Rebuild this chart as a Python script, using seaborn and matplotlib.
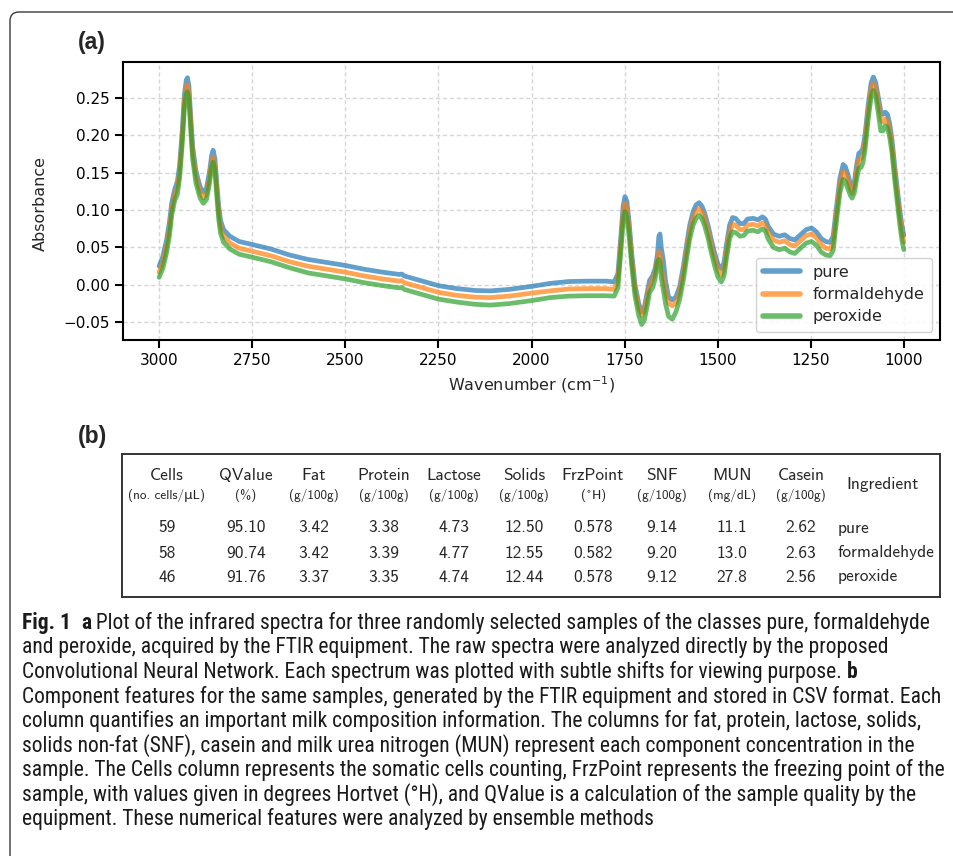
import numpy as np
import pandas as pd
import matplotlib
matplotlib.use("Agg")
import matplotlib.pyplot as plt
import matplotlib.font_manager as fm
from matplotlib.patches import FancyBboxPatch
from matplotlib.transforms import IdentityTransform
import seaborn as sns

# ---------------- data: spectra ----------------
wavenumber = [3000, 2990, 2980, 2972, 2966, 2958, 2951, 2945, 2938, 2932, 2927, 2924, 2920, 2916,
              2910, 2901, 2890, 2881, 2873, 2865, 2859, 2855, 2850, 2845, 2840, 2835, 2827, 2810,
              2785, 2750, 2700, 2650, 2600, 2550, 2500, 2450, 2400, 2370, 2355, 2348, 2342, 2300,
              2250, 2200, 2150, 2110, 2060, 2000, 1950, 1900, 1850, 1800, 1778, 1768, 1760, 1754,
              1749, 1744, 1738, 1731, 1722, 1712, 1704, 1697, 1690, 1683, 1675, 1668, 1662, 1658,
              1655, 1651, 1646, 1640, 1632, 1622, 1612, 1602, 1592, 1583, 1575, 1566, 1558, 1550,
              1542, 1535, 1525, 1517, 1508, 1499, 1490, 1483, 1476, 1468, 1460, 1452, 1440, 1430,
              1420, 1405, 1392, 1380, 1372, 1364, 1350, 1335, 1320, 1306, 1293, 1280, 1262, 1248,
              1235, 1222, 1210, 1198, 1190, 1182, 1172, 1163, 1157, 1150, 1143, 1139, 1133, 1127,
              1121, 1115, 1110, 1104, 1096, 1088, 1082, 1076, 1069, 1062, 1056, 1050, 1044, 1038,
              1032, 1025, 1018, 1011, 1005, 1000]

pure = [0.025, 0.038, 0.060, 0.085, 0.110, 0.128, 0.138, 0.160, 0.205, 0.255, 0.274, 0.277, 0.266, 0.232,
        0.185, 0.152, 0.131, 0.124, 0.129, 0.150, 0.173, 0.180, 0.168, 0.135, 0.105, 0.086, 0.074, 0.065,
        0.058, 0.054, 0.048, 0.040, 0.034, 0.030, 0.026, 0.021, 0.017, 0.015, 0.014, 0.0145, 0.012, 0.006,
        -0.001, -0.005, -0.0075, -0.008, -0.006, -0.002, 0.002, 0.0045, 0.005, 0.005, 0.004, 0.015, 0.065, 0.105,
        0.118, 0.112, 0.085, 0.043, 0.000, -0.025, -0.036, -0.030, -0.012, 0.006, 0.012, 0.022, 0.040, 0.065,
        0.068, 0.048, 0.033, 0.005, -0.016, -0.020, -0.016, -0.002, 0.025, 0.055, 0.080, 0.098, 0.107, 0.110,
        0.105, 0.096, 0.078, 0.060, 0.042, 0.027, 0.022, 0.030, 0.055, 0.080, 0.090, 0.089, 0.082, 0.082,
        0.088, 0.089, 0.087, 0.091, 0.088, 0.078, 0.068, 0.065, 0.067, 0.062, 0.060, 0.066, 0.074, 0.076,
        0.071, 0.062, 0.058, 0.057, 0.065, 0.100, 0.142, 0.161, 0.158, 0.147, 0.133, 0.127, 0.138, 0.160,
        0.176, 0.178, 0.183, 0.202, 0.240, 0.270, 0.278, 0.271, 0.252, 0.232, 0.228, 0.231, 0.228, 0.215,
        0.195, 0.160, 0.130, 0.100, 0.078, 0.066]

formaldehyde = [0.017, 0.030, 0.051, 0.076, 0.101, 0.120, 0.130, 0.151, 0.196, 0.246, 0.265, 0.268, 0.257, 0.223,
                0.176, 0.144, 0.123, 0.116, 0.121, 0.142, 0.164, 0.171, 0.159, 0.126, 0.096, 0.077, 0.065, 0.056,
                0.049, 0.045, 0.039, 0.031, 0.025, 0.021, 0.017, 0.012, 0.008, 0.006, 0.005, 0.0055, 0.003, -0.003,
                -0.010, -0.014, -0.0165, -0.017, -0.015, -0.011, -0.008, -0.0055, -0.005, -0.005, -0.006, 0.005, 0.055, 0.095,
                0.109, 0.103, 0.076, 0.035, -0.007, -0.031, -0.041, -0.036, -0.019, -0.001, 0.006, 0.016, 0.033, 0.044,
                0.042, 0.022, 0.010, -0.010, -0.024, -0.028, -0.024, -0.010, 0.017, 0.046, 0.071, 0.089, 0.098, 0.102,
                0.097, 0.088, 0.070, 0.052, 0.034, 0.019, 0.013, 0.021, 0.046, 0.071, 0.081, 0.080, 0.074, 0.074,
                0.080, 0.081, 0.079, 0.083, 0.080, 0.070, 0.060, 0.057, 0.059, 0.054, 0.052, 0.058, 0.066, 0.068,
                0.063, 0.054, 0.049, 0.048, 0.056, 0.091, 0.133, 0.152, 0.149, 0.139, 0.127, 0.122, 0.132, 0.152,
                0.167, 0.169, 0.174, 0.193, 0.232, 0.262, 0.270, 0.263, 0.243, 0.221, 0.218, 0.222, 0.219, 0.206,
                0.186, 0.151, 0.121, 0.091, 0.069, 0.057]

peroxide = [0.010, 0.022, 0.043, 0.067, 0.094, 0.113, 0.121, 0.143, 0.188, 0.237, 0.256, 0.258, 0.248, 0.214,
            0.168, 0.136, 0.116, 0.109, 0.114, 0.135, 0.157, 0.164, 0.152, 0.118, 0.088, 0.069, 0.057, 0.048,
            0.041, 0.037, 0.031, 0.023, 0.016, 0.012, 0.008, 0.003, -0.001, -0.003, -0.004, -0.0035, -0.006, -0.012,
            -0.019, -0.023, -0.026, -0.027, -0.025, -0.021, -0.017, -0.015, -0.0145, -0.0145, -0.015, -0.004, 0.045, 0.085,
            0.098, 0.092, 0.066, 0.026, -0.015, -0.041, -0.053, -0.047, -0.030, -0.010, -0.004, 0.008, 0.030, 0.034,
            0.030, 0.008, -0.006, -0.025, -0.042, -0.046, -0.036, -0.019, 0.007, 0.037, 0.062, 0.080, 0.089, 0.093,
            0.088, 0.079, 0.061, 0.043, 0.025, 0.010, 0.004, 0.012, 0.037, 0.062, 0.071, 0.070, 0.065, 0.066,
            0.072, 0.073, 0.071, 0.075, 0.072, 0.061, 0.050, 0.047, 0.049, 0.044, 0.042, 0.048, 0.056, 0.058,
            0.053, 0.044, 0.040, 0.039, 0.046, 0.081, 0.123, 0.141, 0.138, 0.128, 0.119, 0.116, 0.123, 0.141,
            0.156, 0.157, 0.163, 0.182, 0.221, 0.251, 0.260, 0.253, 0.231, 0.206, 0.206, 0.213, 0.210, 0.197,
            0.177, 0.142, 0.112, 0.081, 0.059, 0.047]

samples = ["pure", "formaldehyde", "peroxide"]
x_ticks = [3000, 2750, 2500, 2250, 2000, 1750, 1500, 1250, 1000]
y_ticks = [-0.05, 0.00, 0.05, 0.10, 0.15, 0.20, 0.25]

# ---------------- data: table ----------------
col_names = ["Cells", "QValue", "Fat", "Protein", "Lactose", "Solids", "FrzPoint", "SNF", "MUN", "Casein"]
col_units = ["(no. cells/\u03bcL)", "(%)", "(g/100g)", "(g/100g)", "(g/100g)", "(g/100g)", "($^{\\circ}$H)",
             "(g/100g)", "(mg/dL)", "(g/100g)"]
cells = ["59", "58", "46"]
qvalue = ["95.10", "90.74", "91.76"]
fat = ["3.42", "3.42", "3.37"]
protein = ["3.38", "3.39", "3.35"]
lactose = ["4.73", "4.77", "4.74"]
solids = ["12.50", "12.55", "12.44"]
frzpoint = ["0.578", "0.582", "0.578"]
snf = ["9.14", "9.20", "9.12"]
mun = ["11.1", "13.0", "27.8"]
casein = ["2.62", "2.63", "2.56"]
ingredient = ["pure", "formaldehyde", "peroxide"]
table_cols = [cells, qvalue, fat, protein, lactose, solids, frzpoint, snf, mun, casein]

caption_lines = [
    [("Fig. 1", "bold"), ("  ", "normal"), ("a", "bold"),
     (" Plot of the infrared spectra for three randomly selected samples of the classes pure, formaldehyde", "normal")],
    [("and peroxide, acquired by the FTIR equipment. The raw spectra were analyzed directly by the proposed", "normal")],
    [("Convolutional Neural Network. Each spectrum was plotted with subtle shifts for viewing purpose. ", "normal"),
     ("b", "bold")],
    [("Component features for the same samples, generated by the FTIR equipment and stored in CSV format. Each", "normal")],
    [("column quantifies an important milk composition information. The columns for fat, protein, lactose, solids,", "normal")],
    [("solids non-fat (SNF), casein and milk urea nitrogen (MUN) represent each component concentration in the", "normal")],
    [("sample. The Cells column represents the somatic cells counting, FrzPoint represents the freezing point of the", "normal")],
    [("sample, with values given in degrees Hortvet (\u00b0H), and QValue is a calculation of the sample quality by the", "normal")],
    [("equipment. These numerical features were analyzed by ensemble methods", "normal")],
]

# ---------------- style ----------------
sns.set_style("ticks", {"axes.grid": True, "grid.linestyle": (0, (3, 2)), "grid.color": "#d6d6d6",
                        "axes.edgecolor": "black", "xtick.color": "black", "ytick.color": "black"})
plt.rcParams["font.family"] = ["DejaVu Sans"]
plt.rcParams["axes.unicode_minus"] = True

W, H = 954, 856
fig = plt.figure(figsize=(W / 100, H / 100), dpi=100)
fig.patch.set_facecolor("white")

# outer rounded frame
frame = FancyBboxPatch((10, -60), 1100, (H - 12) + 60, boxstyle="round,pad=0,rounding_size=9",
                       transform=IdentityTransform(), facecolor="none", edgecolor="#3a3a3a", linewidth=1.0)
fig.patches.append(frame)

# ---------------- panel (a) ----------------
ax = fig.add_axes([123 / W, 1 - 339.5 / H, 817 / W, 277.5 / H])
df = pd.DataFrame({
    "wavenumber": np.tile(np.array(wavenumber, dtype=float), 3),
    "absorbance": np.concatenate([pure, formaldehyde, peroxide]),
    "sample": np.repeat(samples, len(wavenumber)),
})
palette = ["#1f77b4", "#ff7f0e", "#2ca02c"]
sns.lineplot(data=df, x="wavenumber", y="absorbance", hue="sample", hue_order=samples, palette=palette,
             estimator=None, sort=False, linewidth=3.4, alpha=0.7, ax=ax)
ax.set_xlim(3097, 903)
ax.set_ylim(-0.073, 0.298)
ax.set_xticks(x_ticks)
ax.set_yticks(y_ticks)
ax.grid(True, linestyle=(0, (3, 2)), color="#d6d6d6", linewidth=1.0)
for s in ax.spines.values():
    s.set_visible(True)
    s.set_linewidth(1.5)
    s.set_color("black")
ax.tick_params(axis="both", direction="out", length=6, width=1.5, labelsize=11, pad=3.5)
ax.set_xlabel("Wavenumber (cm$^{-1}$)", fontsize=11.5)
ax.set_ylabel("Absorbance", fontsize=11.5)
ax.xaxis.set_label_coords(0.5, -0.125)
ax.yaxis.set_label_coords(-0.092, 0.49)
handles, labels = ax.get_legend_handles_labels()
leg = ax.legend(handles, labels, loc="lower right", fontsize=11.5, handlelength=2.3, frameon=True,
                fancybox=True, framealpha=0.85, edgecolor="#cccccc", borderpad=0.45, labelspacing=0.45)
for ln in leg.get_lines():
    ln.set_alpha(0.7)
    ln.set_linewidth(4)

fig.text(78 / W, 1 - 42 / H, "(a)", fontsize=16.5, weight="bold", family=["Liberation Sans", "DejaVu Sans"],
         ha="left", va="center")
fig.text(78 / W, 1 - 436 / H, "(b)", fontsize=16.5, weight="bold", family=["Liberation Sans", "DejaVu Sans"],
         ha="left", va="center")

# ---------------- panel (b): table ----------------
tax = fig.add_axes([122 / W, 1 - 597 / H, 818 / W, 143 / H])
tax.set_xlim(122, 940)
tax.set_ylim(597, 454)
tax.set_xticks([])
tax.set_yticks([])
tax.grid(False)
tax.set_facecolor("white")
for s in tax.spines.values():
    s.set_visible(True)
    s.set_linewidth(1.4)
    s.set_color("#333333")

tfam = ["cmss10", "DejaVu Sans"]
col_x = [167, 246, 314, 384, 454, 524, 593, 662, 732, 801]
row_y = [528, 553, 577]
for cx, name, unit, vals in zip(col_x, col_names, col_units, table_cols):
    tax.text(cx, 476, name, ha="center", va="center", fontsize=12.5, family=tfam)
    tax.text(cx, 496, unit, ha="center", va="center", fontsize=9.5, family=tfam, color="#222222")
    for ry, v in zip(row_y, vals):
        tax.text(cx, ry, v, ha="center", va="center", fontsize=12.5, family=tfam)
tax.text(883, 485, "Ingredient", ha="center", va="center", fontsize=12.5, family=tfam)
for ry, v in zip(row_y, ingredient):
    tax.text(838, ry, v, ha="left", va="center", fontsize=12.5, family=tfam)

# ---------------- caption ----------------
avail = {f.name for f in fm.fontManager.ttflist}
cap_family = None
cap_stretch = "normal"
for cand in ["Liberation Sans Narrow", "Roboto Condensed", "Open Sans Condensed", "Noto Sans Condensed"]:
    if cand in avail:
        cap_family = cand
        break
if cap_family is None:
    if any(f.name == "DejaVu Sans" and str(f.stretch) in ("condensed", "semi-condensed") for f in fm.fontManager.ttflist):
        cap_family = "DejaVu Sans"
        cap_stretch = "condensed"
    else:
        cap_family = "Liberation Sans"

renderer = fig.canvas.get_renderer()
probe_text = "".join(t for t, _ in caption_lines[0])
probe = fig.text(0, 0, probe_text, fontsize=12, family=cap_family, fontstretch=cap_stretch)
pw = probe.get_window_extent(renderer).width
probe.remove()
cap_size = 12 * 906 / pw

x0 = 22
base0 = 629
line_gap = 24.5
for i, segs in enumerate(caption_lines):
    x = x0
    yb = base0 + i * line_gap
    for txt, wt in segs:
        t = fig.text(x / W, 1 - yb / H, txt, fontsize=cap_size, weight=wt, family=cap_family,
                     fontstretch=cap_stretch, ha="left", va="baseline", color="#1a1a1a")
        x += t.get_window_extent(renderer).width

fig.savefig("out.png", dpi=100, facecolor="white")
